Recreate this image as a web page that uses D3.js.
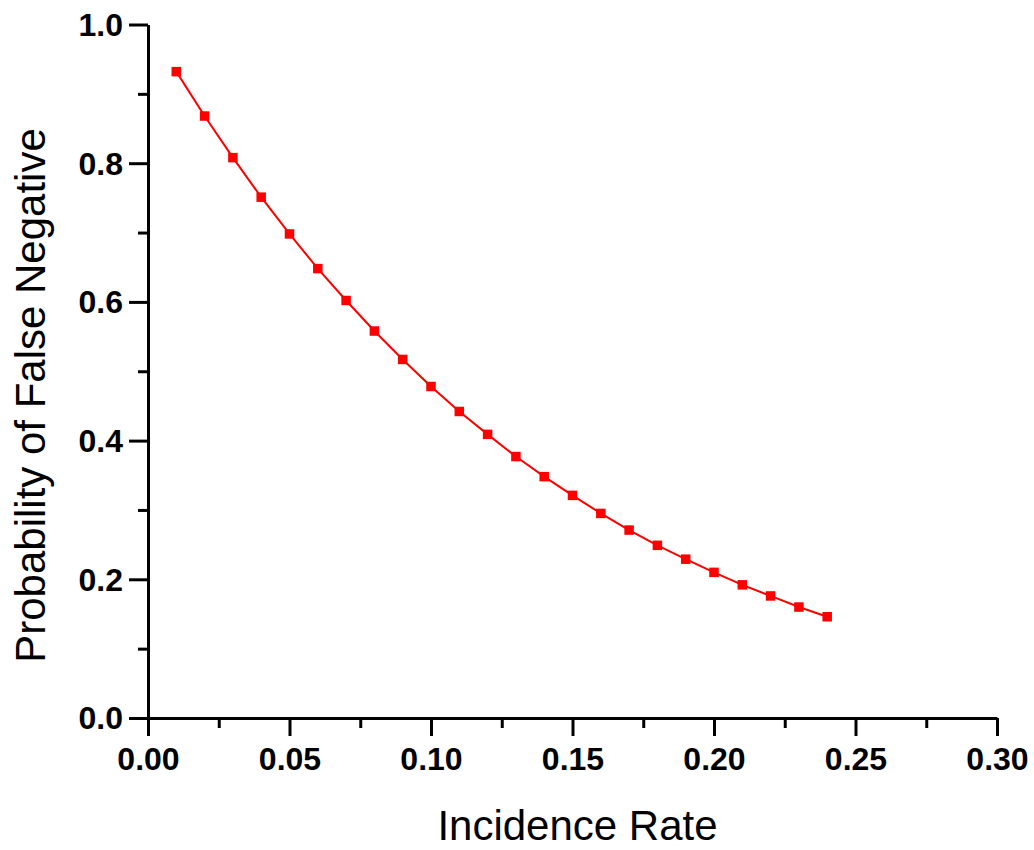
<!DOCTYPE html>
<html>
<head>
<meta charset="utf-8">
<script src="https://cdn.jsdelivr.net/npm/d3@7"></script>
<style>
  html, body { margin: 0; padding: 0; background: #fff; }
  svg { display: block; }
  text { font-family: Arial, "Liberation Sans", sans-serif; }
</style>
</head>
<body>
<svg id="chart" width="1034" height="850"></svg>
<script>
// ---- data ----
const incidenceRate = [0.01, 0.02, 0.03, 0.04, 0.05, 0.06, 0.07, 0.08, 0.09, 0.10, 0.11, 0.12,
                       0.13, 0.14, 0.15, 0.16, 0.17, 0.18, 0.19, 0.20, 0.21, 0.22, 0.23, 0.24];
const probFalseNegative = [0.932, 0.868, 0.808, 0.751, 0.698, 0.648, 0.602, 0.558, 0.517, 0.478, 0.442, 0.409,
                           0.377, 0.348, 0.321, 0.295, 0.271, 0.249, 0.229, 0.210, 0.192, 0.176, 0.160, 0.146];
const xMajorTicks = [0.00, 0.05, 0.10, 0.15, 0.20, 0.25, 0.30];
const xMinorTicks = [0.025, 0.075, 0.125, 0.175, 0.225, 0.275];
const yMajorTicks = [0.0, 0.2, 0.4, 0.6, 0.8, 1.0];
const yMinorTicks = [0.1, 0.3, 0.5, 0.7, 0.9];
const xTitle = "Incidence Rate";
const yTitle = "Probability of False Negative";

// ---- chart ----
const svg = d3.select("#chart");
const x = d3.scaleLinear().domain([0, 0.30]).range([148, 997]);
const y = d3.scaleLinear().domain([0, 1.0]).range([718, 24.5]);

const axisColor = "#000";

// minor ticks
const gxMinor = svg.append("g").attr("transform", `translate(0,${y(0)})`)
  .call(d3.axisBottom(x).tickValues(xMinorTicks).tickSize(10).tickFormat(""));
gxMinor.select(".domain").remove();
const gyMinor = svg.append("g").attr("transform", `translate(${x(0)},0)`)
  .call(d3.axisLeft(y).tickValues(yMinorTicks).tickSize(10).tickFormat(""));
gyMinor.select(".domain").remove();

// major axes
const gx = svg.append("g").attr("transform", `translate(0,${y(0)})`)
  .call(d3.axisBottom(x).tickValues(xMajorTicks).tickSize(18).tickSizeOuter(0)
    .tickPadding(11).tickFormat(d3.format(".2f")));
const gy = svg.append("g").attr("transform", `translate(${x(0)},0)`)
  .call(d3.axisLeft(y).tickValues(yMajorTicks).tickSize(19).tickSizeOuter(0)
    .tickPadding(6).tickFormat(d3.format(".1f")));

[gx, gy, gxMinor, gyMinor].forEach(g => {
  g.selectAll("line").attr("stroke", axisColor).attr("stroke-width", 3);
  g.selectAll(".domain").attr("stroke", axisColor).attr("stroke-width", 3);
  g.selectAll("text").attr("fill", "#000")
    .style("font-family", "Arial, 'Liberation Sans', sans-serif")
    .style("font-size", "32px").style("font-weight", "bold");
});
gx.selectAll("text").attr("dy", "0.71em");
gy.selectAll("text").attr("dy", "0.34em");

// line
const line = d3.line().x((d, i) => x(incidenceRate[i])).y(d => y(d));
svg.append("path")
  .datum(probFalseNegative)
  .attr("d", line)
  .attr("fill", "none")
  .attr("stroke", "#ff0000")
  .attr("stroke-width", 2);

// markers
const ms = 9.5;
svg.append("g").selectAll("rect")
  .data(probFalseNegative)
  .join("rect")
  .attr("x", (d, i) => x(incidenceRate[i]) - ms / 2)
  .attr("y", d => y(d) - ms / 2)
  .attr("width", ms).attr("height", ms)
  .attr("fill", "#ff0000");

// titles
svg.append("text")
  .attr("x", 577.5).attr("y", 840)
  .attr("text-anchor", "middle")
  .style("font-size", "42px")
  .attr("fill", "#000")
  .text(xTitle);

svg.append("text")
  .attr("transform", `translate(45,395.5) rotate(-90)`)
  .attr("text-anchor", "middle")
  .style("font-size", "42px")
  .attr("fill", "#000")
  .text(yTitle);
</script>
</body>
</html>
